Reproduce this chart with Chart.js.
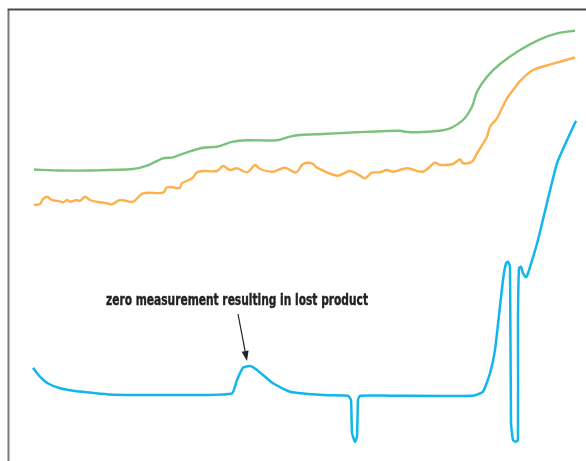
<!DOCTYPE html>
<html>
<head>
<meta charset="utf-8">
<script src="https://cdn.jsdelivr.net/npm/chart.js@4"></script>
<style>
  html, body { margin: 0; padding: 0; background: #fff; }
  #wrap { width: 586px; height: 461px; }
</style>
</head>
<body>
<div id="wrap"><canvas id="c" width="586" height="461"></canvas></div>
<script>
const greenX = [25,51,81,124,138,154,164,178,194,208,224,238,268,281,291,314,348,391,396,408,428,441,454,463,468,478,491,511,531,548,566];
const greenY = [291.5,290.5,290.5,292,295.3,302.7,303.7,308.7,313.3,314.3,319.3,320.7,320.7,324.3,326,327,328.7,330.3,329.3,328.7,330,332.7,341,354.3,369.3,384.3,397,411,421.7,427.7,430.3];

const orangeX = [25,31,34,38,43,51,54,58,61,68,71,76,81,91,98,103,111,124,134,154,158,164,168,171,173,183,188,194,208,214,221,228,238,246,251,264,276,287,294,303,308,328,341,351,356,363,371,378,384,398,414,426,431,444,451,454,463,468,478,481,488,498,508,511,524,548,566];
const orangeY = [256,257,262,264.3,261,259.7,258.7,261,259.3,261,260,264.3,261,258.7,257.7,256.7,261,259.3,267.7,268.3,273.7,273.7,272.7,273.3,277.7,282.7,288.7,290,290,295,291,292.7,288.7,296,292,289.3,293.3,288.5,297,297.7,293.3,285.3,290,285.3,282.7,288.3,288.7,291,289.3,292.7,289.3,298.3,296,297,301.7,297.7,299.3,307.7,324.3,334.3,342.7,362.7,376,380,391,398.3,403.7];

const blueX = [24,29,34,39,51,66,81,101,124,191,223,228,234,241,248,264,281,314,339,342,343,346,348,349,351,381,464,474,481,486,494,497,499,501,502,504,507,509,509,510,512,514,517,519,529,548,567];
const blueY = [93.3,86.5,81.5,77.5,72.7,70,68.5,66.5,66,66,67.7,81,93.3,95,91,77.7,69.3,66,65.3,61,28,19.3,24.3,61,65.3,65.3,65.3,69.3,87.7,111,181,197.7,199.3,194.3,38,21,19.3,21,141,192.7,194.3,187.7,183.7,187.7,221,297.7,340.3];

const annotationText = "zero measurement resulting in lost product";

function pts(xs, ys) { return xs.map((x, i) => ({ x: x, y: ys[i] })); }

const framePlugin = {
  id: 'frame',
  afterDraw(chart) {
    const { ctx, chartArea, scales } = chart;
    ctx.save();
    ctx.lineWidth = 2;
    ctx.strokeStyle = '#7a7a7a';
    ctx.beginPath();
    ctx.moveTo(chartArea.left - 0.5, chartArea.top);
    ctx.lineTo(chartArea.left - 0.5, chartArea.bottom);
    ctx.stroke();
    ctx.strokeStyle = '#4a4a4a';
    ctx.beginPath();
    ctx.moveTo(chartArea.left - 1.5, chartArea.top - 0.5);
    ctx.lineTo(chartArea.right, chartArea.top - 0.5);
    ctx.stroke();

    const xs = scales.x, ys = scales.y;
    const tx = xs.getPixelForValue(97);
    const ty = ys.getPixelForValue(156);
    ctx.font = 'bold 15px "Liberation Sans Narrow", "DejaVu Sans Condensed", "Liberation Sans", sans-serif';
    ctx.fillStyle = '#222222';
    ctx.strokeStyle = '#222222';
    ctx.lineWidth = 0.4;
    ctx.textBaseline = 'alphabetic';
    const w = ctx.measureText(annotationText).width;
    const target = 262;
    ctx.save();
    ctx.translate(tx, ty);
    ctx.scale(target / w, 1);
    ctx.fillText(annotationText, 0, 0);
    ctx.strokeText(annotationText, 0, 0);
    ctx.restore();

    const x1 = xs.getPixelForValue(229), y1 = ys.getPixelForValue(147);
    const x2 = xs.getPixelForValue(238), y2 = ys.getPixelForValue(100);
    const ang = Math.atan2(y2 - y1, x2 - x1);
    const hl = 10, hw = 3.5;
    const bx = x2 - hl * Math.cos(ang), by = y2 - hl * Math.sin(ang);
    ctx.strokeStyle = '#222222';
    ctx.lineWidth = 1.2;
    ctx.beginPath();
    ctx.moveTo(x1, y1);
    ctx.lineTo(bx, by);
    ctx.stroke();
    ctx.beginPath();
    ctx.moveTo(x2, y2);
    ctx.lineTo(bx + hw * Math.sin(ang), by - hw * Math.cos(ang));
    ctx.lineTo(bx - hw * Math.sin(ang), by + hw * Math.cos(ang));
    ctx.closePath();
    ctx.fillStyle = '#222222';
    ctx.fill();
    ctx.restore();
  }
};

new Chart(document.getElementById('c'), {
  type: 'scatter',
  data: {
    datasets: [
      { label: 'green', data: pts(greenX, greenY), showLine: true, borderColor: '#7bc27a', borderWidth: 2.4, pointRadius: 0, tension: 0.3 },
      { label: 'orange', data: pts(orangeX, orangeY), showLine: true, borderColor: '#fdb04c', borderWidth: 2.4, pointRadius: 0, tension: 0.3 },
      { label: 'blue', data: pts(blueX, blueY), showLine: true, borderColor: '#12b6ea', borderWidth: 2.5, pointRadius: 0, tension: 0.15 }
    ]
  },
  options: {
    responsive: false,
    devicePixelRatio: 1,
    animation: false,
    layout: { padding: { left: 9, top: 10, right: 0, bottom: 0 } },
    plugins: { legend: { display: false }, tooltip: { enabled: false } },
    scales: {
      x: { type: 'linear', min: 0, max: 577, display: false },
      y: { type: 'linear', min: 0, max: 451, display: false }
    }
  },
  plugins: [framePlugin]
});
</script>
</body>
</html>
